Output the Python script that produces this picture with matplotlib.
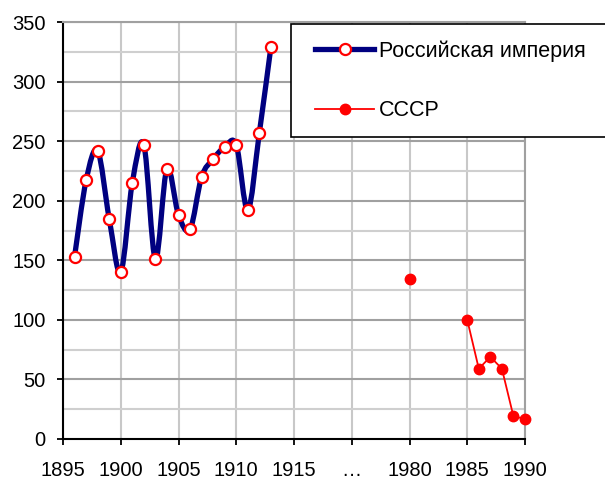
import matplotlib
matplotlib.use("Agg")
import matplotlib.pyplot as plt
from matplotlib.path import Path
from matplotlib.patches import PathPatch, Rectangle
from matplotlib.lines import Line2D
import numpy as np

plt.rcParams['font.family'] = ['Liberation Sans', 'DejaVu Sans']

# Российская империя, 1896-1913
empire_years = [1896, 1897, 1898, 1899, 1900, 1901, 1902, 1903, 1904,
                1905, 1906, 1907, 1908, 1909, 1910, 1911, 1912, 1913]
empire_values = [153, 217, 242, 185, 140, 215, 247, 151, 227,
                 188, 176, 220, 235, 245, 247, 192, 257, 329]

# СССР
ussr_years = [1980, 1985, 1986, 1987, 1988, 1989, 1990]
ussr_values = [134, 100, 59, 69, 59, 19, 17]

tick_labels = ['1895', '1900', '1905', '1910', '1915', '…', '1980', '1985', '1990']


def year_pos(y):
    # axis is broken: 1895..1915, "...", 1980..1990
    return y - 1895 if y < 1950 else y - 1950


def smooth_path(xs, ys):
    # Excel-like smoothed line: cubic Bezier segments (Catmull-Rom control points)
    pts = np.column_stack([xs, ys]).astype(float)
    n = len(pts)
    verts = [pts[0]]
    codes = [Path.MOVETO]
    for i in range(n - 1):
        p0 = pts[i - 1] if i > 0 else pts[i]
        p1 = pts[i]
        p2 = pts[i + 1]
        p3 = pts[i + 2] if i + 2 < n else pts[i + 1]
        c1 = p1 + (p2 - p0) / 6
        c2 = p2 - (p3 - p1) / 6
        verts += [c1, c2, p2]
        codes += [Path.CURVE4] * 3
    return Path(verts, codes)


fig = plt.figure(figsize=(6.05, 4.82), dpi=100)
ax = fig.add_axes([63 / 605, 1 - 439 / 482, 462 / 605, 417 / 482])

ax.set_xlim(0, 40)
ax.set_ylim(0, 350)

# grid
for v in range(0, 41, 5):
    ax.axvline(v, color='#c8c8c8', lw=1.5, zorder=0)
for v in range(25, 351, 50):
    ax.axhline(v, color='#cfcfcf', lw=1.5, zorder=0)
for v in range(50, 351, 50):
    ax.axhline(v, color='#a0a0a0', lw=1.5, zorder=0)

ex = [year_pos(y) for y in empire_years]
ux = [year_pos(y) for y in ussr_years]

# empire: smoothed thick navy line with open red circles
ax.add_patch(PathPatch(smooth_path(ex, empire_values), facecolor='none',
                       edgecolor='#000080', lw=3.8, capstyle='round',
                       joinstyle='round', zorder=3))
ax.plot(ex, empire_values, ls='none', marker='o', ms=8, mfc='white',
        mec='red', mew=1.6, zorder=4)

# USSR: gap 1981-1984
ax.plot(ux[:1], ussr_values[:1], ls='none', marker='o', ms=7.5, color='red',
        zorder=4, clip_on=False)
ax.plot(ux[1:], ussr_values[1:], color='red', lw=1.3, marker='o', ms=7.5,
        zorder=4, clip_on=False)

ax.set_xticks(range(0, 41, 5))
ax.set_xticklabels(tick_labels)
ax.set_yticks(range(0, 351, 50))
ax.tick_params(axis='both', labelsize=14.5, length=4.5, width=1.3, color='black', direction='out')
ax.tick_params(axis='x', pad=11)
ax.tick_params(axis='y', pad=8)

for s in ['left', 'bottom']:
    ax.spines[s].set_linewidth(1.5)
    ax.spines[s].set_color('black')
for s in ['top', 'right']:
    ax.spines[s].set_linewidth(1.5)
    ax.spines[s].set_color('#a0a0a0')

# legend box (runs off the right edge of the image)
fig.patches.append(Rectangle((291 / 605, 1 - 137 / 482), 330 / 605, 113 / 482,
                             transform=fig.transFigure, facecolor='white',
                             edgecolor='black', lw=1.2, zorder=5))
handles = [
    Line2D([], [], color='#000080', lw=3.8, marker='o', ms=8, mfc='white', mec='red', mew=1.6),
    Line2D([], [], color='red', lw=1.3, marker='o', ms=7.5),
]
leg = fig.legend(handles, ['Российская империя', 'СССР'], loc='upper left',
                 bbox_to_anchor=(315 / 605, 1 - 40 / 482), frameon=False,
                 fontsize=15.5, handlelength=2.75, handletextpad=0.23,
                 labelspacing=1.8, numpoints=1, borderpad=0, borderaxespad=0)
leg.set_zorder(6)

fig.savefig('out.png', dpi=100)
